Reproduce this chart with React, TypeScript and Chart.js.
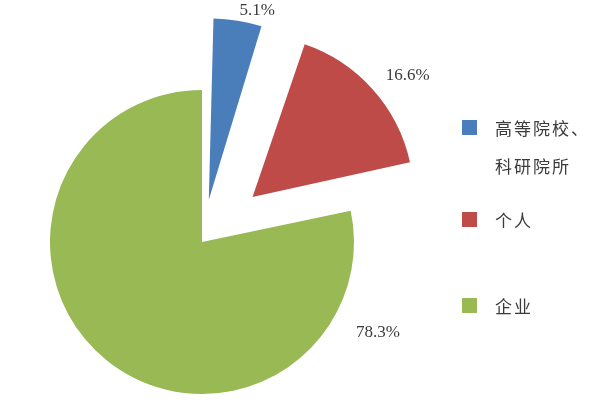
import React, { useEffect, useRef } from "react";
import { Chart, registerables } from "chart.js";

Chart.register(...registerables);

const categories = ["高等院校、科研院所", "个人", "企业"];
const legendLines = [["高等院校、", "科研院所"], ["个人"], ["企业"]];
const values = [5.1, 16.6, 78.3];
const valueLabels = ["5.1%", "16.6%", "78.3%"];
const colors = ["#4A7EBB", "#BE4B48", "#98B954"];
// Chart.js option values; the visible shift is offset/4 * (2 - sin(circumference))
const sliceOffsets = [171, 271, 0];

// label placement: fraction along the arc and distance beyond the outer edge
const labelFractions = [0.83, 0.565, 0.139];
const labelPads = [14, 36, 46];

function arcShift(arc: any, offset: number) {
  const circ = arc.endAngle - arc.startAngle;
  const fix = 1 - Math.sin(Math.min(Math.PI, circ || 0));
  const d = (offset / 4) * (1 + fix);
  const half = (arc.startAngle + arc.endAngle) / 2;
  return { dx: Math.cos(half) * d, dy: Math.sin(half) * d };
}

const labelPlugin = {
  id: "pctLabels",
  afterDatasetsDraw(chart: any) {
    const ctx = chart.ctx;
    const meta = chart.getDatasetMeta(0);
    ctx.save();
    ctx.font = "17px 'Liberation Serif', 'DejaVu Serif', serif";
    ctx.fillStyle = "#3a3a3a";
    ctx.textAlign = "center";
    ctx.textBaseline = "middle";
    meta.data.forEach((arc: any, i: number) => {
      const s = arcShift(arc, sliceOffsets[i]);
      const a = arc.startAngle + labelFractions[i] * (arc.endAngle - arc.startAngle);
      const d = arc.outerRadius + labelPads[i];
      ctx.fillText(valueLabels[i], arc.x + s.dx + Math.cos(a) * d, arc.y + s.dy + Math.sin(a) * d);
    });
    ctx.restore();
  },
};

export default function App() {
  const ref = useRef<HTMLCanvasElement | null>(null);
  useEffect(() => {
    if (!ref.current) return;
    const chart = new Chart(ref.current, {
      type: "pie",
      data: {
        labels: categories,
        datasets: [
          {
            data: values,
            backgroundColor: colors,
            borderWidth: 0,
            offset: sliceOffsets,
            clip: false,
          } as any,
        ],
      },
      options: {
        animation: false,
        responsive: false,
        radius: 152,
        layout: { padding: { left: 0, right: 196, top: 84, bottom: 0 } },
        plugins: {
          legend: { display: false },
          tooltip: { enabled: false },
        },
      } as any,
      plugins: [labelPlugin],
    });
    return () => chart.destroy();
  }, []);

  const legendTops = [120, 212, 298];
  return (
    <div style={{ position: "fixed", left: 0, top: 0, width: 600, height: 400, background: "#fff" }}>
      <canvas ref={ref} width={600} height={400} style={{ position: "absolute", left: 0, top: 0 }} />
      {legendLines.map((lines, i) => (
        <div key={i} style={{ position: "absolute", left: 462, top: legendTops[i] }}>
          <div style={{ position: "absolute", left: 0, top: 0, width: 15, height: 15, background: colors[i] }} />
          <div
            style={{
              position: "absolute",
              left: 33,
              top: -11,
              fontFamily: "'Noto Sans CJK SC', sans-serif",
              fontSize: 17,
              letterSpacing: 2,
              lineHeight: "38px",
              color: "#3a3a3a",
              whiteSpace: "nowrap",
            }}
          >
            {lines.map((l, j) => (
              <div key={j}>{l}</div>
            ))}
          </div>
        </div>
      ))}
    </div>
  );
}
